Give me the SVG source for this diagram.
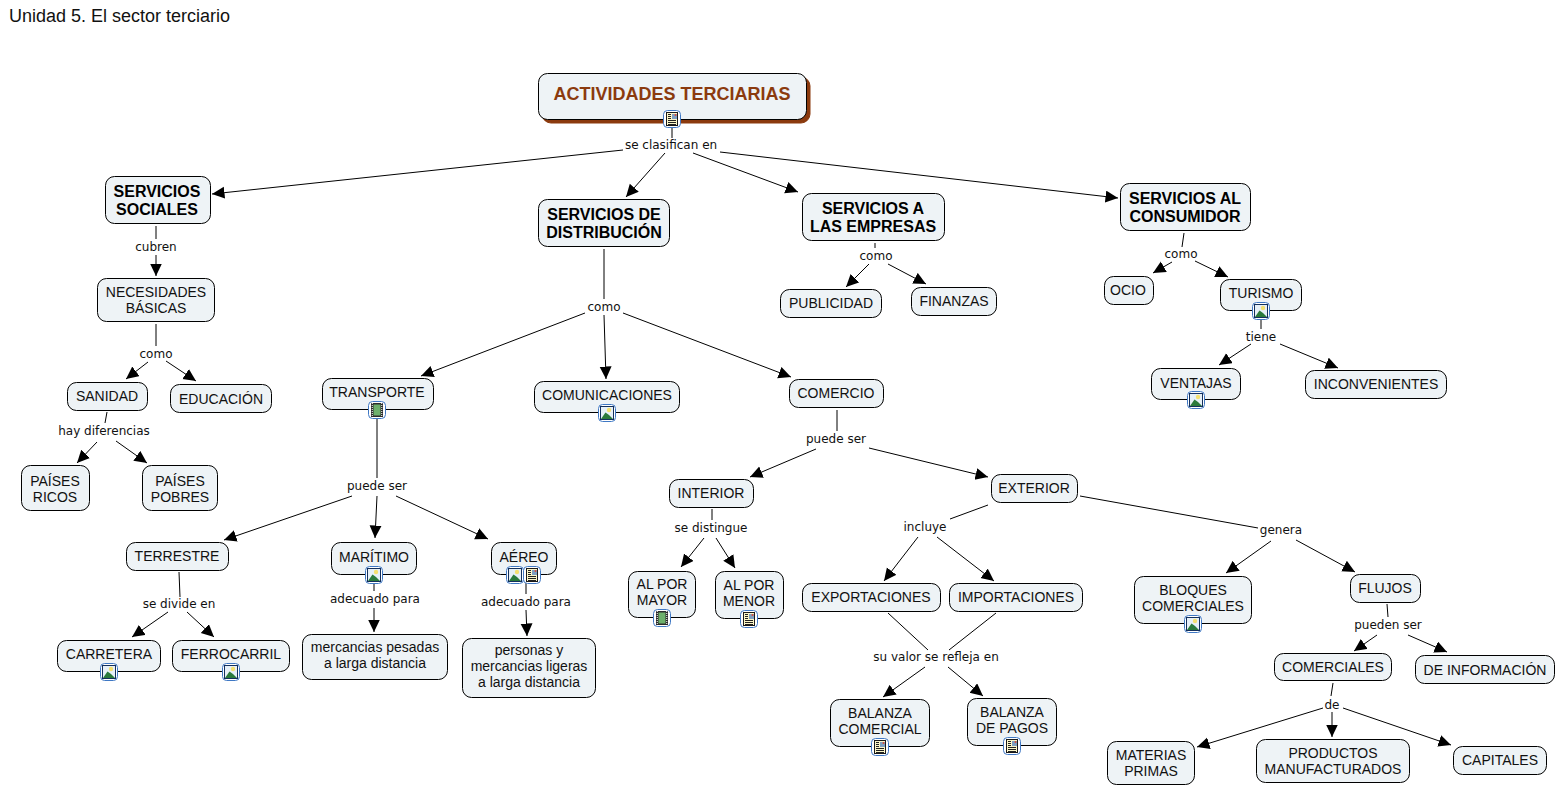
<svg xmlns="http://www.w3.org/2000/svg" width="1556" height="786" viewBox="0 0 1556 786">
<style>
.n rect{fill:#eef3f6;stroke:#000;stroke-width:1}
.n text,.title{font-family:"Liberation Sans",Arial,sans-serif;font-size:14px;fill:#111;text-anchor:middle}
.b text{font-weight:bold;font-size:16px;fill:#000}
.l{font-family:"DejaVu Sans",Verdana,sans-serif;font-size:12px;fill:#111;text-anchor:middle}
.c line{stroke:#000;stroke-width:1}
.a{marker-end:url(#ah)}
</style>
<defs>
<marker id="ah" markerUnits="userSpaceOnUse" markerWidth="14" markerHeight="14" refX="12.500" refY="6" orient="auto"><path d="M0 0L12.500 6L0 12Z" fill="#000"/></marker>
<g id="frame"><rect x="-8.500" y="-8.500" width="17" height="17" rx="4" fill="#fff" stroke="#3f78c4" stroke-width="1"/></g>
<g id="doc"><use href="#frame"/><rect x="-5.500" y="-6.500" width="11" height="13" fill="#fbf6c8" stroke="#1a1a1a" stroke-width="1"/><rect x="0" y="-5" width="5" height="5" fill="#7f9fc0"/><circle cx="3.500" cy="-4" r="1" fill="#e04a30"/><path d="M-4-4.500h3M-4-2.500h3M-4-.500h3M-4 1.500h8M-4 3.500h8M-4 5.500h8" stroke="#222" stroke-width="1" fill="none"/></g>
<g id="img"><use href="#frame"/><rect x="-6.500" y="-6.500" width="13" height="13" fill="#e6f0f8" stroke="#14305c" stroke-width="1"/><circle cx="2" cy="-3" r="2.200" fill="#f4e070"/><path d="M-6 6L-1.500-.500L2 2L6 6Z" fill="#2a7a3c"/></g>
<g id="film"><use href="#frame"/><rect x="-6" y="-7" width="12" height="14" fill="#2c2c2c"/><rect x="-3.500" y="-5.500" width="7" height="11" fill="#6db06c"/><path d="M-4.750-7v14M4.750-7v14" stroke="#fff" stroke-width="1" stroke-dasharray="1 1"/></g>
</defs>
<rect width="1556" height="786" fill="#fff"/>
<text class="title" x="9" y="22" style="font-size:18px;text-anchor:start">Unidad 5. El sector terciario</text>

<g id="connectors" class="c">
<line x1="672" y1="127" x2="672" y2="138"/>
<line class="a" x1="623" y1="150" x2="212" y2="194"/>
<line class="a" x1="665" y1="153" x2="626" y2="197"/>
<line class="a" x1="693" y1="153" x2="798" y2="192"/>
<line class="a" x1="720" y1="152" x2="1118" y2="198"/>
<line x1="156" y1="226" x2="156" y2="239"/>
<line class="a" x1="156" y1="255" x2="156" y2="276"/>
<line x1="156" y1="324" x2="156" y2="346"/>
<line class="a" x1="148" y1="362" x2="126" y2="379"/>
<line class="a" x1="166" y1="361" x2="196" y2="381"/>
<line x1="107" y1="412" x2="105" y2="423"/>
<line class="a" x1="97" y1="442" x2="77" y2="463"/>
<line class="a" x1="116" y1="441" x2="147" y2="463"/>
<line x1="604" y1="249" x2="604" y2="299"/>
<line class="a" x1="585" y1="313" x2="421" y2="376"/>
<line class="a" x1="604" y1="315" x2="606" y2="379"/>
<line class="a" x1="623" y1="313" x2="791" y2="377"/>
<line x1="875" y1="243" x2="875" y2="248"/>
<line class="a" x1="869" y1="264" x2="846" y2="287"/>
<line class="a" x1="888" y1="264" x2="926" y2="284"/>
<line x1="1184" y1="233" x2="1182" y2="247"/>
<line class="a" x1="1172" y1="262" x2="1153" y2="273"/>
<line class="a" x1="1195" y1="261" x2="1228" y2="277"/>
<line x1="1261" y1="320" x2="1261" y2="329"/>
<line class="a" x1="1251" y1="344" x2="1219" y2="365"/>
<line class="a" x1="1280" y1="344" x2="1338" y2="368"/>
<line x1="377" y1="418" x2="377" y2="478"/>
<line class="a" x1="352" y1="496" x2="224" y2="540"/>
<line class="a" x1="377" y1="496" x2="375" y2="538"/>
<line class="a" x1="396" y1="496" x2="488" y2="539"/>
<line x1="374" y1="583" x2="374" y2="591"/>
<line class="a" x1="374" y1="608" x2="374" y2="632"/>
<line x1="526" y1="583" x2="526" y2="594"/>
<line class="a" x1="526" y1="610" x2="527" y2="636"/>
<line x1="179" y1="572" x2="180" y2="597"/>
<line class="a" x1="168" y1="612" x2="132" y2="637"/>
<line class="a" x1="187" y1="612" x2="214" y2="637"/>
<line x1="837" y1="410" x2="837" y2="431"/>
<line class="a" x1="816" y1="449" x2="750" y2="477"/>
<line class="a" x1="869" y1="448" x2="988" y2="477"/>
<line x1="712" y1="509" x2="712" y2="520"/>
<line class="a" x1="704" y1="538" x2="681" y2="567"/>
<line class="a" x1="716" y1="538" x2="735" y2="568"/>
<line x1="988" y1="505" x2="950" y2="519"/>
<line x1="1080" y1="496" x2="1258" y2="528"/>
<line class="a" x1="918" y1="537" x2="884" y2="581"/>
<line class="a" x1="937" y1="537" x2="994" y2="581"/>
<line x1="888" y1="613" x2="928" y2="650"/>
<line x1="996" y1="613" x2="949" y2="650"/>
<line class="a" x1="925" y1="667" x2="883" y2="697"/>
<line class="a" x1="948" y1="667" x2="983" y2="696"/>
<line class="a" x1="1271" y1="541" x2="1226" y2="573"/>
<line class="a" x1="1296" y1="540" x2="1355" y2="572"/>
<line x1="1387" y1="604" x2="1388" y2="617"/>
<line class="a" x1="1377" y1="635" x2="1354" y2="651"/>
<line class="a" x1="1408" y1="635" x2="1447" y2="652"/>
<line x1="1333" y1="683" x2="1331" y2="696"/>
<line class="a" x1="1323" y1="708" x2="1197" y2="747"/>
<line class="a" x1="1332" y1="712" x2="1332" y2="737"/>
<line class="a" x1="1343" y1="708" x2="1451" y2="745"/>
</g>

<g id="labels">
<text class="l" x="671" y="149">se clasifican en</text>
<text class="l" x="156" y="251">cubren</text>
<text class="l" x="156" y="358">como</text>
<text class="l" x="104" y="435">hay diferencias</text>
<text class="l" x="604" y="311">como</text>
<text class="l" x="876" y="260">como</text>
<text class="l" x="1181" y="258">como</text>
<text class="l" x="1261" y="341">tiene</text>
<text class="l" x="377" y="490">puede ser</text>
<text class="l" x="375" y="603">adecuado para</text>
<text class="l" x="526" y="606">adecuado para</text>
<text class="l" x="179" y="608">se divide en</text>
<text class="l" x="836" y="443">puede ser</text>
<text class="l" x="711" y="532">se distingue</text>
<text class="l" x="925" y="531">incluye</text>
<text class="l" x="1281" y="534">genera</text>
<text class="l" x="936" y="661">su valor se refleja en</text>
<text class="l" x="1388" y="629">pueden ser</text>
<text class="l" x="1332" y="709">de</text>
</g>

<g id="n-root" class="n"><rect x="542" y="77" width="268" height="46" rx="9" style="fill:#8b3a0e;stroke:#8b3a0e"/><rect x="538.500" y="73.500" width="268" height="46" rx="9"/><text x="672" y="100" style="font-weight:bold;font-size:18px;fill:#8b3a0e">ACTIVIDADES TERCIARIAS</text><use href="#doc" x="672" y="119"/></g>
<g id="n-sociales" class="n b"><rect x="105.500" y="176.500" width="105" height="47" rx="9"/><text x="157" y="197">SERVICIOS</text><text x="157" y="215">SOCIALES</text></g>
<g id="n-distribucion" class="n b"><rect x="538.500" y="199.500" width="131" height="47" rx="9"/><text x="604" y="220">SERVICIOS DE</text><text x="604" y="238">DISTRIBUCIÓN</text></g>
<g id="n-empresas" class="n b"><rect x="802.500" y="193.500" width="142" height="47" rx="9"/><text x="873" y="214">SERVICIOS A</text><text x="873" y="232">LAS EMPRESAS</text></g>
<g id="n-consumidor" class="n b"><rect x="1120.500" y="183.500" width="130" height="47" rx="9"/><text x="1185" y="204">SERVICIOS AL</text><text x="1185" y="222">CONSUMIDOR</text></g>
<g id="n-necesidades" class="n"><rect x="97.500" y="278.500" width="117" height="43" rx="9"/><text x="156" y="297">NECESIDADES</text><text x="156" y="313">BÁSICAS</text></g>
<g id="n-sanidad" class="n"><rect x="67.500" y="382.500" width="80" height="28" rx="9"/><text x="107" y="401">SANIDAD</text></g>
<g id="n-educacion" class="n"><rect x="170.500" y="384.500" width="101" height="28" rx="9"/><text x="221" y="404">EDUCACIÓN</text></g>
<g id="n-ricos" class="n"><rect x="21.500" y="465.500" width="68" height="45" rx="9"/><text x="55" y="486">PAÍSES</text><text x="55" y="502">RICOS</text></g>
<g id="n-pobres" class="n"><rect x="142.500" y="465.500" width="75" height="45" rx="9"/><text x="180" y="486">PAÍSES</text><text x="180" y="502">POBRES</text></g>
<g id="n-transporte" class="n"><rect x="322.500" y="378.500" width="111" height="31" rx="9"/><text x="377" y="397">TRANSPORTE</text><use href="#film" x="377" y="410"/></g>
<g id="n-comunicaciones" class="n"><rect x="534.500" y="381.500" width="145" height="31" rx="9"/><text x="607" y="400">COMUNICACIONES</text><use href="#img" x="607" y="413"/></g>
<g id="n-comercio" class="n"><rect x="789.500" y="379.500" width="94" height="28" rx="9"/><text x="836" y="398">COMERCIO</text></g>
<g id="n-publicidad" class="n"><rect x="780.500" y="289.500" width="101" height="28" rx="9"/><text x="831" y="308">PUBLICIDAD</text></g>
<g id="n-finanzas" class="n"><rect x="911.500" y="287.500" width="85" height="28" rx="9"/><text x="954" y="306">FINANZAS</text></g>
<g id="n-ocio" class="n"><rect x="1104.500" y="276.500" width="49" height="28" rx="9"/><text x="1128" y="295">OCIO</text></g>
<g id="n-turismo" class="n"><rect x="1220.500" y="279.500" width="81" height="31" rx="9"/><text x="1261" y="298">TURISMO</text><use href="#img" x="1261" y="311"/></g>
<g id="n-ventajas" class="n"><rect x="1151.500" y="368.500" width="89" height="31" rx="9"/><text x="1196" y="388">VENTAJAS</text><use href="#img" x="1196" y="400"/></g>
<g id="n-inconvenientes" class="n"><rect x="1305.500" y="370.500" width="141" height="28" rx="9"/><text x="1376" y="389">INCONVENIENTES</text></g>
<g id="n-interior" class="n"><rect x="669.500" y="479.500" width="84" height="28" rx="9"/><text x="711" y="498">INTERIOR</text></g>
<g id="n-exterior" class="n"><rect x="991.500" y="474.500" width="86" height="28" rx="9"/><text x="1034" y="493">EXTERIOR</text></g>
<g id="n-mayor" class="n"><rect x="628.500" y="571.500" width="67" height="46" rx="9"/><text x="662" y="589">AL POR</text><text x="662" y="605">MAYOR</text><use href="#film" x="662" y="618"/></g>
<g id="n-menor" class="n"><rect x="715.500" y="571.500" width="68" height="47" rx="9"/><text x="749" y="590">AL POR</text><text x="749" y="606">MENOR</text><use href="#doc" x="749" y="619"/></g>
<g id="n-terrestre" class="n"><rect x="126.500" y="542.500" width="102" height="28" rx="9"/><text x="177" y="561">TERRESTRE</text></g>
<g id="n-maritimo" class="n"><rect x="331.500" y="542.500" width="85" height="32" rx="9"/><text x="374" y="562">MARÍTIMO</text><use href="#img" x="374" y="575"/></g>
<g id="n-aereo" class="n"><rect x="491.500" y="542.500" width="65" height="32" rx="9"/><text x="524" y="562">AÉREO</text><use href="#img" x="515" y="575"/><use href="#doc" x="532" y="575"/></g>
<g id="n-carretera" class="n"><rect x="57.500" y="640.500" width="103" height="31" rx="9"/><text x="109" y="659">CARRETERA</text><use href="#img" x="109" y="672"/></g>
<g id="n-ferrocarril" class="n"><rect x="172.500" y="640.500" width="117" height="31" rx="9"/><text x="231" y="659">FERROCARRIL</text><use href="#img" x="231" y="672"/></g>
<g id="n-mercancias" class="n"><rect x="302.500" y="634.500" width="145" height="45" rx="9"/><text x="375" y="652">mercancias pesadas</text><text x="375" y="668">a larga distancia</text></g>
<g id="n-personas" class="n"><rect x="462.500" y="638.500" width="133" height="59" rx="9"/><text x="529" y="655">personas y</text><text x="529" y="671">mercancias ligeras</text><text x="529" y="687">a larga distancia</text></g>
<g id="n-exportaciones" class="n"><rect x="802.500" y="583.500" width="138" height="28" rx="9"/><text x="871" y="602">EXPORTACIONES</text></g>
<g id="n-importaciones" class="n"><rect x="949.500" y="583.500" width="133" height="28" rx="9"/><text x="1016" y="602">IMPORTACIONES</text></g>
<g id="n-bcomercial" class="n"><rect x="830.500" y="699.500" width="99" height="47" rx="9"/><text x="880" y="718">BALANZA</text><text x="880" y="734">COMERCIAL</text><use href="#doc" x="880" y="747"/></g>
<g id="n-bpagos" class="n"><rect x="967.500" y="698.500" width="89" height="47" rx="9"/><text x="1012" y="717">BALANZA</text><text x="1012" y="733">DE PAGOS</text><use href="#doc" x="1012" y="746"/></g>
<g id="n-bloques" class="n"><rect x="1134.500" y="576.500" width="117" height="47" rx="9"/><text x="1193" y="595">BLOQUES</text><text x="1193" y="611">COMERCIALES</text><use href="#img" x="1193" y="624"/></g>
<g id="n-flujos" class="n"><rect x="1350.500" y="574.500" width="70" height="28" rx="9"/><text x="1385" y="593">FLUJOS</text></g>
<g id="n-comerciales" class="n"><rect x="1274.500" y="653.500" width="117" height="27" rx="9"/><text x="1333" y="672">COMERCIALES</text></g>
<g id="n-informacion" class="n"><rect x="1415.500" y="655.500" width="139" height="28" rx="9"/><text x="1485" y="675">DE INFORMACIÓN</text></g>
<g id="n-materias" class="n"><rect x="1107.500" y="741.500" width="87" height="43" rx="9"/><text x="1151" y="760">MATERIAS</text><text x="1151" y="776">PRIMAS</text></g>
<g id="n-productos" class="n"><rect x="1256.500" y="739.500" width="153" height="43" rx="9"/><text x="1333" y="758">PRODUCTOS</text><text x="1333" y="774">MANUFACTURADOS</text></g>
<g id="n-capitales" class="n"><rect x="1453.500" y="746.500" width="93" height="28" rx="9"/><text x="1500" y="765">CAPITALES</text></g>
</svg>
